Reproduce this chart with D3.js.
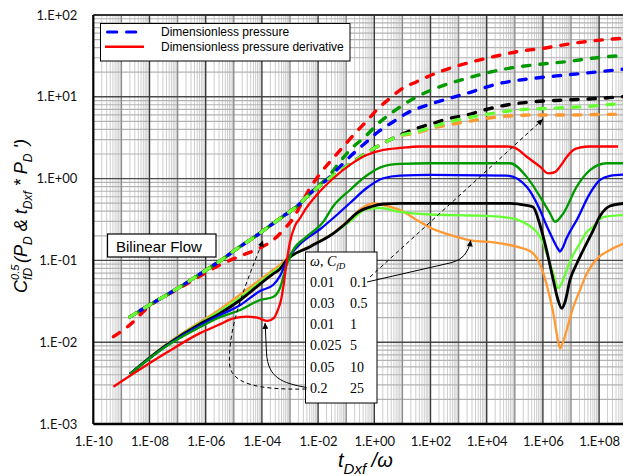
<!DOCTYPE html>
<html>
<head>
<meta charset="utf-8">
<title>Dimensionless pressure and derivative</title>
<script src="https://cdn.jsdelivr.net/npm/d3@7/dist/d3.min.js"></script>
<style>
  html, body { margin: 0; padding: 0; background: #fff; }
  svg { display: block; }
</style>
</head>
<body>
<svg id="chart" width="623" height="476"></svg>
<script>
// ---------- axis ticks ----------
const xTickValues = [1e-10, 1e-8, 1e-6, 1e-4, 1e-2, 1, 1e2, 1e4, 1e6, 1e8];
const xTickLabels = ["1.E-10", "1.E-08", "1.E-06", "1.E-04", "1.E-02", "1.E+00", "1.E+02", "1.E+04", "1.E+06", "1.E+08"];
const yTickValues = [1e-3, 1e-2, 1e-1, 1, 10, 100];
const yTickLabels = ["1.E-03", "1.E-02", "1.E-01", "1.E+00", "1.E+01", "1.E+02"];

// ---------- cases (storativity ratio ω, fracture conductivity C_fD) ----------
const omegaValues = [0.01, 0.03, 0.01, 0.025, 0.05, 0.2];
const cfdValues = [0.1, 0.5, 1, 5, 10, 25];

// ---------- dimensionless pressure, pairs of [tDxf/ω, C_fD^0.5·P_D] ----------
const pdCfd01 = [[2.0e-9, 0.0204], [1.0e-8, 0.0285], [1.2e-7, 0.0473], [6.3e-7, 0.0682], [3.2e-6, 0.0984], [1.7e-5, 0.148], [8.6e-5, 0.216], [1.9e-4, 0.264], [6.6e-4, 0.359], [2.0e-3, 0.475], [3.9e-3, 0.596], [1.5e-2, 0.877], [5.2e-2, 1.21], [0.179, 1.61], [0.611, 2.13], [2.09, 2.70], [6.27, 3.25], [32.3, 3.61], [123, 4.16], [494, 4.58], [1940, 4.96], [2.97e4, 5.72], [4.45e5, 5.99], [7.03e6, 5.99], [1.08e8, 6.08], [8.4e8, 6.11]];
const pdCfd05 = [[2.0e-9, 0.0204], [1.0e-8, 0.0285], [1.2e-7, 0.0473], [6.3e-7, 0.0682], [3.2e-6, 0.0984], [1.7e-5, 0.148], [8.6e-5, 0.216], [1.9e-4, 0.264], [6.6e-4, 0.359], [2.0e-3, 0.475], [3.9e-3, 0.596], [1.5e-2, 0.877], [5.2e-2, 1.21], [0.179, 1.61], [0.611, 2.13], [2.09, 2.70], [6.27, 3.25], [32.3, 3.74], [494, 4.96], [7380, 5.99], [1.17e5, 6.90], [1.79e6, 7.23], [2.74e7, 7.57], [4.23e8, 8.17], [8.4e8, 8.28]];
const pdCfd1 = [[2.0e-9, 0.0204], [1.0e-8, 0.0285], [1.2e-7, 0.0473], [6.3e-7, 0.0682], [3.2e-6, 0.0984], [1.7e-5, 0.148], [8.6e-5, 0.216], [1.9e-4, 0.264], [6.6e-4, 0.359], [2.0e-3, 0.475], [3.9e-3, 0.596], [1.5e-2, 0.877], [5.2e-2, 1.21], [0.179, 1.61], [0.611, 2.13], [2.09, 2.70], [8.22, 3.41], [32.3, 4.12], [123, 4.74], [494, 5.46], [1940, 5.99], [1.0e4, 7.03], [5.15e4, 7.94], [4.45e5, 8.71], [7.03e6, 9.14], [1.08e8, 9.59], [8.4e8, 10.1]];
const pdCfd5 = [[2.0e-9, 0.0204], [1.0e-8, 0.0285], [1.2e-7, 0.0473], [6.3e-7, 0.0682], [3.2e-6, 0.0984], [1.7e-5, 0.148], [8.6e-5, 0.216], [1.9e-4, 0.264], [6.6e-4, 0.359], [2.0e-3, 0.475], [5.9e-3, 0.686], [2.0e-2, 0.962], [6.0e-2, 1.40], [0.157, 1.94], [0.467, 2.70], [1.39, 3.74], [4.74, 4.96], [14.2, 6.29], [123, 8.33], [1940, 11.0], [2.97e4, 14.6], [4.45e5, 16.8], [7.03e6, 18.5], [1.08e8, 20.3], [8.4e8, 21.9]];
const pdCfd10 = [[2.0e-9, 0.0204], [1.0e-8, 0.0285], [1.2e-7, 0.0473], [6.3e-7, 0.0682], [3.2e-6, 0.0984], [1.7e-5, 0.148], [8.6e-5, 0.216], [1.9e-4, 0.264], [6.6e-4, 0.359], [2.0e-3, 0.475], [5.9e-3, 0.686], [2.6e-2, 1.11], [6.0e-2, 1.61], [0.157, 2.35], [0.467, 3.25], [1.39, 4.74], [4.74, 6.57], [32.3, 10.0], [218, 13.3], [1940, 16.8], [2.97e4, 21.3], [4.45e5, 24.5], [7.03e6, 26.9], [1.08e8, 30.4], [8.4e8, 32.0]];
const pdCfd25 = [[5.2e-10, 0.0117], [1.8e-9, 0.0158], [1.0e-8, 0.0277], [1.2e-7, 0.0460], [6.3e-7, 0.0644], [3.2e-6, 0.0879], [1.7e-5, 0.113], [8.6e-5, 0.142], [2.3e-4, 0.173], [6.6e-4, 0.247], [1.3e-3, 0.327], [2.3e-3, 0.462], [4.7e-3, 0.726], [1.2e-2, 1.16], [3.0e-2, 1.69], [7.9e-2, 2.46], [0.206, 3.58], [0.537, 5.06], [1.39, 7.23], [4.16, 10.0], [8.22, 12.1], [32.3, 15.3], [218, 20.3], [1940, 25.7], [1.72e4, 30.9], [1.17e5, 35.6], [1.03e6, 39.2], [1.21e7, 45.1], [3.2e8, 50.9], [5.55e8, 51.6]];

// ---------- pressure derivative, pairs of [tDxf/ω, C_fD^0.5·tDxf·P_D'] ----------
const derivCfd01 = [[2.0e-9, 0.00408], [4.1e-8, 0.00951], [6.3e-7, 0.0177], [2.8e-6, 0.0244], [1.7e-5, 0.0384], [8.6e-5, 0.0581], [2.5e-4, 0.0763], [4.4e-4, 0.0879], [7.6e-4, 0.104], [5.2e-3, 0.150], [3.5e-2, 0.216], [0.136, 0.321], [0.365, 0.437], [0.92, 0.499], [2.09, 0.475], [8.22, 0.413], [32.3, 0.312], [123, 0.242], [494, 0.205], [1940, 0.180], [2.97e4, 0.162], [1.17e5, 0.147], [3.47e5, 0.130], [6.70e5, 0.101], [1.03e6, 0.0702], [1.52e6, 0.0435], [2.34e6, 0.0228], [3.18e6, 0.0122], [4.06e6, 0.0084], [5.19e6, 0.0100], [7.03e6, 0.0141], [1.18e7, 0.0262], [2.09e7, 0.0435], [3.42e7, 0.0664], [6.22e7, 0.0922], [1.08e8, 0.113], [2.44e8, 0.134], [8.4e8, 0.162]];
const derivCfd05 = [[2.0e-9, 0.00408], [4.1e-8, 0.00938], [6.3e-7, 0.0172], [2.8e-6, 0.0232], [1.7e-5, 0.0352], [8.6e-5, 0.0544], [2.5e-4, 0.0721], [4.4e-4, 0.0830], [7.6e-4, 0.101], [5.2e-3, 0.147], [3.5e-2, 0.214], [0.157, 0.312], [0.537, 0.425], [1.60, 0.437], [8.22, 0.391], [96, 0.364], [2550, 0.354], [2.97e4, 0.342], [1.02e5, 0.321], [2.65e5, 0.279], [6.01e5, 0.222], [1.03e6, 0.163], [1.52e6, 0.107], [2.34e6, 0.0695], [3.53e6, 0.0456], [5.19e6, 0.0576], [7.03e6, 0.0763], [1.18e7, 0.116], [2.09e7, 0.162], [3.62e7, 0.222], [6.22e7, 0.258], [1.41e8, 0.339], [8.4e8, 0.359]];
const derivCfd1 = [[2.0e-9, 0.00408], [4.1e-8, 0.00925], [6.3e-7, 0.0167], [2.8e-6, 0.0219], [1.7e-5, 0.0328], [8.6e-5, 0.0514], [2.5e-4, 0.0682], [4.4e-4, 0.0785], [7.6e-4, 0.101], [5.2e-3, 0.147], [3.5e-2, 0.214], [9.1e-2, 0.279], [0.27, 0.391], [0.807, 0.456], [2.09, 0.489], [8.22, 0.499], [6.75e4, 0.497], [2.31e5, 0.475], [4.45e5, 0.450], [7.89e5, 0.271], [1.40e6, 0.127], [2.34e6, 0.0576], [3.45e6, 0.0328], [4.67e6, 0.0260], [6.12e6, 0.0310], [9.2e6, 0.0576], [1.64e7, 0.0929], [2.74e7, 0.134], [6.22e7, 0.235], [1.08e8, 0.349], [2.44e8, 0.462], [8.4e8, 0.499]];
const derivCfd5 = [[2.0e-9, 0.00408], [4.1e-8, 0.00912], [6.3e-7, 0.0160], [2.8e-6, 0.0209], [1.7e-5, 0.0285], [8.6e-5, 0.0423], [2.5e-4, 0.0500], [4.4e-4, 0.0644], [7.6e-4, 0.0984], [2.3e-3, 0.159], [1.2e-2, 0.242], [4.6e-2, 0.359], [0.136, 0.503], [0.537, 0.767], [2.09, 1.01], [8.22, 1.09], [96, 1.11], [5.15e4, 1.09], [2.65e5, 0.796], [7.89e5, 0.413], [1.32e6, 0.271], [2.34e6, 0.178], [3.45e6, 0.138], [4.06e6, 0.128], [4.79e6, 0.138], [7.03e6, 0.188], [1.60e7, 0.312], [4.74e7, 0.661], [1.08e8, 0.962], [2.44e8, 1.08], [8.4e8, 1.12]];
const derivCfd10 = [[2.0e-9, 0.00408], [4.1e-8, 0.00899], [6.3e-7, 0.0153], [2.8e-6, 0.0198], [1.7e-5, 0.0248], [8.6e-5, 0.0328], [2.5e-4, 0.0357], [4.4e-4, 0.0460], [7.6e-4, 0.0879], [1.3e-3, 0.134], [3.9e-3, 0.195], [1.5e-2, 0.294], [3.5e-2, 0.462], [0.136, 0.726], [0.537, 1.09], [2.09, 1.41], [8.22, 1.51], [96, 1.54], [6.75e4, 1.54], [2.65e5, 1.05], [7.89e5, 0.601], [1.79e6, 0.376], [2.70e6, 0.297], [5.32e6, 0.376], [1.60e7, 0.796], [4.74e7, 1.27], [1.86e8, 1.54], [8.4e8, 1.54]];
const derivCfd25 = [[5.2e-10, 0.00286], [4.1e-8, 0.00748], [6.3e-7, 0.0129], [2.8e-6, 0.0162], [9.6e-6, 0.0195], [2.9e-5, 0.0206], [7.3e-5, 0.0198], [1.6e-4, 0.0182], [2.7e-4, 0.0198], [3.7e-4, 0.0248], [4.8e-4, 0.0328], [5.8e-4, 0.0477], [7.6e-4, 0.0955], [1.0e-3, 0.168], [1.5e-3, 0.264], [2.3e-3, 0.330], [3.4e-3, 0.413], [8.9e-3, 0.631], [3.5e-2, 1.01], [0.136, 1.47], [0.537, 1.94], [2.09, 2.24], [8.22, 2.37], [42.3, 2.47], [5.15e4, 2.47], [1.02e5, 2.37], [2.65e5, 1.85], [7.89e5, 1.40], [1.56e6, 1.16], [2.70e6, 1.20], [4.06e6, 1.40], [7.03e6, 1.84], [1.21e7, 2.24], [2.09e7, 2.40], [4.74e7, 2.47], [4.71e8, 2.47]];

// annotation targets [tDxf/ω, value]: derivative & pressure of case 1, derivative & pressure of case 6
const arrowTargets = [[2.7e3, 0.176], [1.0e6, 5.3], [1.3e-4, 0.0172], [1.1e-4, 0.175]];

// ---------- styling ----------
const caseColors = ["#ff9933", "#66ff33", "#000000", "#0000ff", "#009a00", "#ff0000"];
const pressureSeries = [pdCfd01, pdCfd05, pdCfd1, pdCfd5, pdCfd10, pdCfd25];
const derivativeSeries = [derivCfd01, derivCfd05, derivCfd1, derivCfd5, derivCfd10, derivCfd25];

const sans = "'Liberation Sans', Arial, Helvetica, sans-serif";
const serif = "'Liberation Serif', 'Times New Roman', serif";
const tickFont = "Lato, 'Open Sans', sans-serif";

const plot = { left: 93.3, right: 627.2, top: 15, bottom: 424 };

const svg = d3.select("#chart");
const x = d3.scaleLog().domain([1e-10, 1e9]).range([plot.left, plot.right]);
const y = d3.scaleLog().domain([1e-3, 1e2]).range([plot.bottom, plot.top]);

svg.append("rect").attr("width", 623).attr("height", 476).attr("fill", "#fff");

const defs = svg.append("defs");
defs.append("clipPath").attr("id", "plot-clip")
  .append("rect")
  .attr("x", plot.left).attr("y", plot.top)
  .attr("width", plot.right - plot.left).attr("height", plot.bottom - plot.top);
defs.append("marker")
  .attr("id", "arrowhead")
  .attr("viewBox", "0 0 10 10")
  .attr("refX", 10).attr("refY", 5)
  .attr("markerWidth", 8).attr("markerHeight", 6)
  .attr("markerUnits", "userSpaceOnUse")
  .attr("orient", "auto")
  .append("path").attr("d", "M0,0L10,5L0,10Z").attr("fill", "#000");

// ---------- grid ----------
const grid = svg.append("g").attr("clip-path", "url(#plot-clip)");
const xDecades = d3.range(-10, 9);
const yDecades = d3.range(-3, 2);
const xMinor = [];
xDecades.forEach(k => { for (let m = 2; m <= 9; m++) xMinor.push(m * Math.pow(10, k)); });
const yMinor = [];
yDecades.forEach(k => { for (let m = 2; m <= 9; m++) yMinor.push(m * Math.pow(10, k)); });
const xOdd = xDecades.filter(k => Math.abs(k) % 2 === 1).map(k => Math.pow(10, k));
const xMajor = xTickValues.slice(1);
const yMajor = yTickValues.slice(1, -1);

function vLines(vals, color, width) {
  grid.append("g").selectAll("line").data(vals).join("line")
    .attr("x1", d => x(d)).attr("x2", d => x(d))
    .attr("y1", plot.top).attr("y2", plot.bottom)
    .attr("stroke", color).attr("stroke-width", width);
}
function hLines(vals, color, width) {
  grid.append("g").selectAll("line").data(vals).join("line")
    .attr("x1", plot.left).attr("x2", plot.right)
    .attr("y1", d => y(d)).attr("y2", d => y(d))
    .attr("stroke", color).attr("stroke-width", width);
}
vLines(xMinor, "#cdcdcd", 1);
hLines(yMinor, "#b3b3b3", 1.2);
vLines(xOdd, "#8c8c8c", 1.4);
hLines(yMajor, "#4a4a4a", 1.4);
vLines(xMajor, "#3a3a3a", 1.4);

// ---------- curves ----------
const line = d3.line()
  .x(d => x(d[0]))
  .y(d => y(d[1]))
  .curve(d3.curveMonotoneX);

const curves = svg.append("g").attr("clip-path", "url(#plot-clip)");
const dashedOrder = [5, 4, 3, 0, 2, 1];
dashedOrder.forEach(i => {
  curves.append("path")
    .attr("d", line(pressureSeries[i]))
    .attr("fill", "none")
    .attr("stroke", caseColors[i])
    .attr("stroke-width", 3.4)
    .attr("stroke-linecap", "round")
    .attr("stroke-dasharray", "7.3,10")
    .attr("stroke-dashoffset", i === 3 ? 5 : (i === 4 ? 10 : 0));
});
const solidOrder = [0, 1, 2, 3, 4, 5];
solidOrder.forEach(i => {
  curves.append("path")
    .attr("d", line(derivativeSeries[i]))
    .attr("fill", "none")
    .attr("stroke", caseColors[i])
    .attr("stroke-width", i === 2 ? 2.8 : 2.3)
    .attr("stroke-linejoin", "round");
});

// ---------- frame ----------
svg.append("line").attr("x1", plot.left).attr("x2", plot.right).attr("y1", plot.top).attr("y2", plot.top)
  .attr("stroke", "#333").attr("stroke-width", 2);
svg.append("line").attr("x1", plot.left).attr("x2", plot.right).attr("y1", plot.bottom).attr("y2", plot.bottom)
  .attr("stroke", "#000").attr("stroke-width", 2.5);
svg.append("line").attr("x1", plot.left).attr("x2", plot.left).attr("y1", plot.top).attr("y2", plot.bottom)
  .attr("stroke", "#000").attr("stroke-width", 2.2);

// ---------- axes ----------
const xAxis = svg.append("g")
  .attr("transform", `translate(0,${plot.bottom})`)
  .call(d3.axisBottom(x).tickValues(xTickValues)
    .tickFormat((d, i) => xTickLabels[i]).tickSize(0).tickPadding(13));
const yAxis = svg.append("g")
  .attr("transform", `translate(${plot.left},0)`)
  .call(d3.axisLeft(y).tickValues(yTickValues)
    .tickFormat((d, i) => yTickLabels[i]).tickSize(0).tickPadding(16));
[xAxis, yAxis].forEach(g => {
  g.select(".domain").remove();
  g.selectAll("text")
    .attr("fill", "#111")
    .style("font-family", tickFont)
    .style("font-size", "13px");
});

// x title: t_Dxf / ω
const xTitle = svg.append("text")
  .attr("x", 338).attr("y", 467)
  .style("font-family", sans).style("font-style", "italic")
  .style("font-size", "20px").attr("fill", "#000");
xTitle.append("tspan").text("t");
xTitle.append("tspan").attr("dy", 7).style("font-size", "15px").text("Dxf");
xTitle.append("tspan").attr("dy", -7).text(" /\u03c9");

// y title: C_fD^0.5 (P_D & t_Dxf * P_D')
const yTitle = svg.append("text")
  .attr("transform", "translate(27,216) rotate(-90)")
  .attr("text-anchor", "middle")
  .style("font-family", sans).style("font-style", "italic")
  .style("font-size", "18px").attr("fill", "#000");
yTitle.append("tspan").text("C");
const sup = yTitle.append("tspan").attr("dy", -8).style("font-size", "11px").text("0.5");
const supW = sup.node().getComputedTextLength();
yTitle.append("tspan").attr("dx", -supW).attr("dy", 13).style("font-size", "12px").text("fD");
yTitle.append("tspan").attr("dy", -5).text(" (P");
yTitle.append("tspan").attr("dy", 5).style("font-size", "12px").text("D");
yTitle.append("tspan").attr("dy", -5).text(" & t");
yTitle.append("tspan").attr("dy", 5).style("font-size", "12px").text("Dxf");
yTitle.append("tspan").attr("dy", -5).text(" * P");
yTitle.append("tspan").attr("dy", 5).style("font-size", "12px").text("D");
yTitle.append("tspan").attr("dy", -5).text(" ')");

// ---------- series legend ----------
const legend = svg.append("g");
legend.append("rect")
  .attr("x", 100.5).attr("y", 23.5).attr("width", 249.5).attr("height", 37.5)
  .attr("fill", "#fff").attr("stroke", "#000").attr("stroke-width", 1);
legend.append("line")
  .attr("x1", 107.5).attr("x2", 137).attr("y1", 32).attr("y2", 32)
  .attr("stroke", "#0000ff").attr("stroke-width", 3)
  .attr("stroke-linecap", "round").attr("stroke-dasharray", "9.3,9.7");
legend.append("line")
  .attr("x1", 105).attr("x2", 144).attr("y1", 46.7).attr("y2", 46.7)
  .attr("stroke", "#ff0000").attr("stroke-width", 2.5);
legend.append("text").attr("x", 161).attr("y", 36.3)
  .style("font-family", sans).style("font-size", "12px").text("Dimensionless pressure");
legend.append("text").attr("x", 161).attr("y", 51)
  .style("font-family", sans).style("font-size", "12px").text("Dimensionless pressure derivative");

// ---------- flow regime label ----------
svg.append("rect")
  .attr("x", 107.5).attr("y", 234).attr("width", 108.5).attr("height", 23)
  .attr("fill", "#fff").attr("stroke", "#000").attr("stroke-width", 1.2);
svg.append("text").attr("x", 116).attr("y", 251.5)
  .style("font-family", sans).style("font-size", "15px").text("Bilinear Flow");

// ---------- case table ----------
const table = { x: 305.5, y: 252, w: 71.5, h: 151, col1: 310, col2: 350, row0: 286.5, rowStep: 21.3 };
const tbl = svg.append("g");
tbl.append("rect")
  .attr("x", table.x).attr("y", table.y).attr("width", table.w).attr("height", table.h)
  .attr("fill", "#fff").attr("stroke", "#000").attr("stroke-width", 1);
const head = tbl.append("text").attr("x", table.col1).attr("y", 266)
  .style("font-family", serif).style("font-style", "italic").style("font-size", "14px");
head.append("tspan").text("\u03c9, C");
head.append("tspan").attr("dy", 3).style("font-size", "9px").text("fD");
omegaValues.forEach((w, i) => {
  const yy = table.row0 + i * table.rowStep;
  tbl.append("text").attr("x", table.col1).attr("y", yy)
    .style("font-family", serif).style("font-size", "14px").text(String(w));
  tbl.append("text").attr("x", table.col2).attr("y", yy)
    .style("font-family", serif).style("font-size", "14px").text(String(cfdValues[i]));
});

// ---------- arrows from the table to the highlighted curves ----------
const arrows = svg.append("g").attr("fill", "none").attr("stroke", "#000").attr("stroke-width", 1);
const r0 = table.row0 - 5;                        // first row mid-line
const r5 = table.row0 + 5 * table.rowStep - 5;    // last row mid-line
const t1 = [x(arrowTargets[0][0]), y(arrowTargets[0][1])];
const t2 = [x(arrowTargets[1][0]), y(arrowTargets[1][1])];
const t3 = [x(arrowTargets[2][0]), y(arrowTargets[2][1])];
const t4 = [x(arrowTargets[3][0]), y(arrowTargets[3][1])];

arrows.append("path")
  .attr("d", `M367,${r0 + 0.5} L452,${r0 - 19} Q${t1[0] - 3},${r0 - 23} ${t1[0]},${t1[1]}`)
  .attr("marker-end", "url(#arrowhead)");
arrows.append("path")
  .attr("d", `M370,${r0 - 4.5} L${t2[0]},${t2[1]}`)
  .attr("stroke-dasharray", "4,3")
  .attr("marker-end", "url(#arrowhead)");
arrows.append("path")
  .attr("d", `M${table.x + 1},${r5 - 0.5} C282,${r5 - 5} 268,${r5 - 10} 266.5,${r5 - 35} L${t3[0]},${t3[1]}`)
  .attr("marker-end", "url(#arrowhead)");
arrows.append("path")
  .attr("d", `M${table.x + 1},${r5 + 1} C258,${r5 + 2} 231,${r5 - 4} 229.5,${r5 - 24} C228,${r5 - 60} 244,${r5 - 100} ${t4[0]},${t4[1]}`)
  .attr("stroke-dasharray", "4,3")
  .attr("marker-end", "url(#arrowhead)");
</script>
</body>
</html>
